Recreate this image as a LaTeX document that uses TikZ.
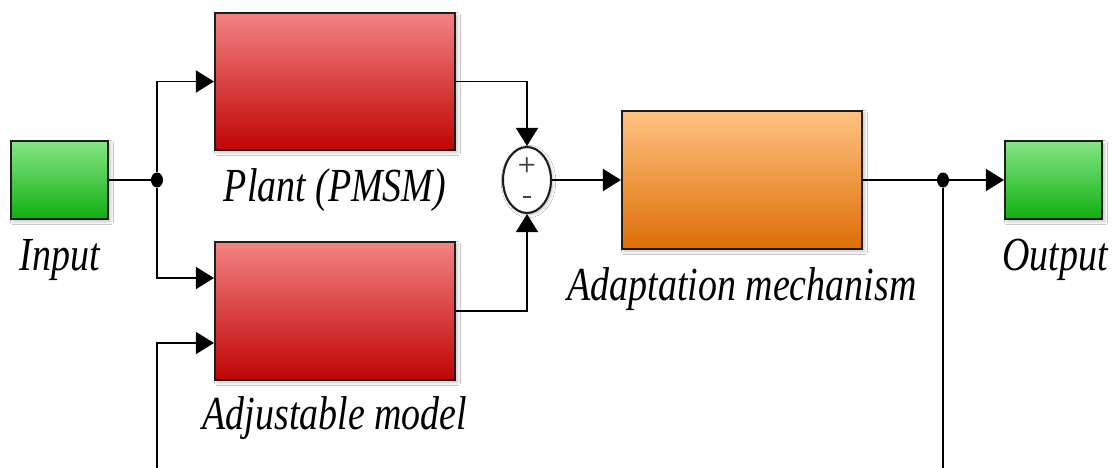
\documentclass[tikz,border=0pt]{standalone}
\usepackage{fontspec}
\setmainfont{Liberation Serif}
\usetikzlibrary{arrows.meta,calc,shapes.geometric,shadows.blur}
\definecolor{grnTop}{HTML}{84E684}
\definecolor{grnBot}{HTML}{12AE12}
\definecolor{redTop}{HTML}{F38282}
\definecolor{redMid}{HTML}{E46060}
\definecolor{redBot}{HTML}{C00404}
\definecolor{orgTop}{HTML}{FFC282}
\definecolor{orgMid}{HTML}{F5AA60}
\definecolor{orgBot}{HTML}{DD6E06}
\definecolor{edge}{HTML}{1E1E1E}
\newcommand{\lbl}[1]{\scalebox{0.8}[1]{\fontsize{27}{30}\selectfont\itshape #1}}
\begin{document}
\begin{tikzpicture}[x=0.02cm,y=-0.02cm,
  block/.style={draw=edge, line width=1.2pt, rectangle, inner sep=0pt,
    blur shadow={shadow xshift=0.05cm, shadow yshift=-0.05cm, shadow opacity=25, shadow blur steps=6}},
  srcblock/.style={block, minimum width=1.94cm, minimum height=1.56cm,
    top color=grnTop, bottom color=grnBot},
  redblock/.style={block, minimum width=4.8cm, minimum height=2.76cm,
    top color=redTop, middle color=redMid, bottom color=redBot},
  orgblock/.style={block, minimum width=4.8cm, minimum height=2.76cm,
    top color=orgTop, middle color=orgMid, bottom color=orgBot},
  sumblock/.style={draw=edge, line width=1.2pt, ellipse, fill=white,
    minimum width=0.96cm, minimum height=1.32cm, inner sep=0pt,
    blur shadow={shadow xshift=0.03cm, shadow yshift=-0.03cm, shadow opacity=25, shadow blur steps=5}},
  wire/.style={draw=black, line width=0.8pt},
  sig/.style={wire, -{Triangle[length=0.36cm, width=0.44cm]}},
  dot/.style={fill=black, ellipse, inner sep=0pt, minimum width=0.24cm, minimum height=0.3cm},
  caption/.style={inner sep=0pt, text=black},
  sign/.style={inner sep=0pt, text=black!75, font=\sffamily\bfseries\fontsize{12}{12}\selectfont}
]
\clip (0,0) rectangle (1119,467);
\fill[white] (0,0) rectangle (1119,467);

% blocks
\node[srcblock] (in)    at (59.5,180) {};
\node[redblock, minimum height=2.74cm] (plant) at (335,81.5) {};
\node[redblock] (adj)   at (335,311) {};
\node[sumblock] (sum)   at (527,180) {};
\node[orgblock] (adapt) at (742,180) {};
\node[srcblock] (out)   at (1053.5,180) {};

% signs of the summing junction
\node[sign] (plus)  at (527,165) {+};
\node[sign] (minus) at (527,197) {\rule{0.16cm}{0.03cm}};

% captions
\node[caption] (inlab)    at (60,260)   {\lbl{Input}};
\node[caption] (plantlab) at (335,190)  {\lbl{Plant (PMSM)}};
\node[caption] (adjlab)   at (335,418)  {\lbl{Adjustable model}};
\node[caption] (adaptlab) at (742,289)  {\lbl{Adaptation mechanism}};
\node[caption] (outlab)   at (1055,260) {\lbl{Output}};

% branch points and feedback ends
\node[dot] (j1) at (157,180) {};
\node[dot] (j2) at (943,180) {};
\coordinate (fbR) at (943,480);
\coordinate (fbL) at (157,480);

% connectors
\draw[wire] (in.east) -- (j1);
\draw[sig] (j1) |- (plant.west);
\draw[sig] (j1) |- ($(adj.west)+(0,-33)$);
\draw[sig] (plant.east) -| (sum.north);
\draw[sig] (adj.east) -| (sum.south);
\draw[sig] (sum.east) -- (adapt.west);
\draw[wire] (adapt.east) -- (j2);
\draw[sig] (j2) -- (out.west);
\draw[wire] (j2) -- (fbR);
\draw[sig] (fbL) |- ($(adj.west)+(0,32)$);
\end{tikzpicture}
\end{document}
